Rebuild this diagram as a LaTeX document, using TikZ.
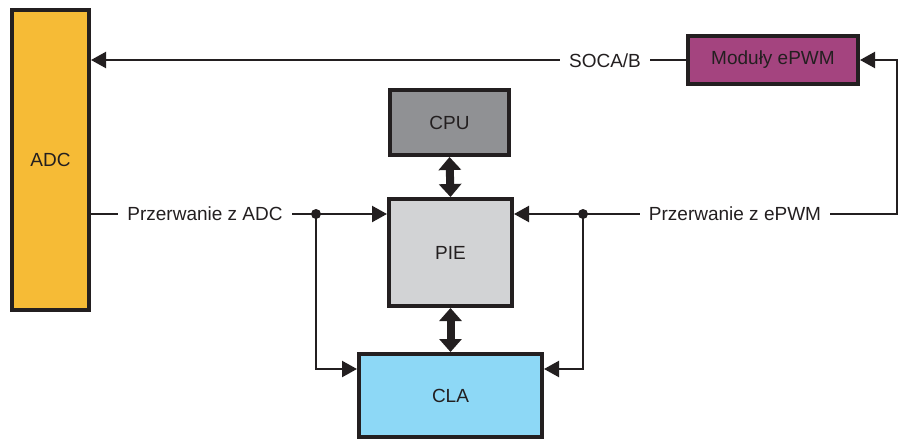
\documentclass[tikz,border=0pt]{standalone}
\usepackage{fontspec}
\setmainfont{Liberation Sans}
\usetikzlibrary{arrows.meta}
\definecolor{ink}{HTML}{231F20}
\definecolor{adcC}{HTML}{F6BB36}
\definecolor{pwmC}{HTML}{A4447F}
\definecolor{cpuC}{HTML}{909194}
\definecolor{pieC}{HTML}{D2D3D5}
\definecolor{claC}{HTML}{8DD8F6}
\begin{document}
\begin{tikzpicture}[x=1pt,y=-1pt,
  font=\fontsize{19}{23}\selectfont,
  blk/.style={draw=ink,line width=4pt,inner sep=0pt,text=ink},
  conn/.style={draw=ink,line width=2.2pt,-{Triangle[length=15pt,width=16pt]}},
  plain/.style={draw=ink,line width=2.2pt},
  lbl/.style={fill=white,text=ink,inner xsep=9pt,inner ysep=2pt},
  dot/.style={circle,fill=ink,inner sep=0pt,minimum size=10pt},
  bus/.style={draw=ink,line width=8pt,{Triangle[length=13pt,width=22pt]}-{Triangle[length=13pt,width=22pt]}}
]
\useasboundingbox (0,0) rectangle (901,442);
\node[blk,fill=adcC,minimum width=77pt,minimum height=300pt] (adc) at (50.5,160) {ADC};
\node[blk,fill=pwmC,minimum width=170pt,minimum height=48pt] (epwm) at (773,60) {Moduły ePWM};
\node[blk,fill=cpuC,minimum width=119pt,minimum height=65pt] (cpu) at (449.5,122.5) {CPU};
\node[blk,fill=pieC,minimum width=123pt,minimum height=107pt] (pie) at (450.5,252.5) {PIE};
\node[blk,fill=claC,minimum width=183pt,minimum height=83pt] (cla) at (450.5,395.5) {CLA};

\coordinate (dotL) at (316,214);
\coordinate (lowL) at (316,369);
\coordinate (dotR) at (583,214);
\coordinate (lowR) at (583,369);
\coordinate (cornerR) at (897,214);

% SOCA/B
\draw[conn] (epwm.west) -- (epwm.west -| adc.east);
\node[lbl] (soca) at (605,61) {SOCA/B};

% ADC interrupt
\draw[plain] (adc.east |- dotL) -- (dotL);
\draw[conn] (dotL) -- (pie.west |- dotL);
\draw[conn] (dotL) -- (lowL) -- (cla.west |- lowL);
\node[lbl] (intadc) at (205,214) {Przerwanie z ADC};

% ePWM interrupt
\draw[conn] (dotR) -- (cornerR) |- (epwm.east);
\draw[conn] (dotR) -- (pie.east |- dotR);
\draw[conn] (dotR) -- (lowR) -- (cla.east |- lowR);
\node[lbl] (intpwm) at (735,214) {Przerwanie z ePWM};

\node[dot] (dl) at (dotL) {};
\node[dot] (dr) at (dotR) {};

% buses
\draw[bus] (cpu.south) -- (pie.north);
\draw[bus] (pie.south) -- (cla.north);
\end{tikzpicture}
\end{document}
